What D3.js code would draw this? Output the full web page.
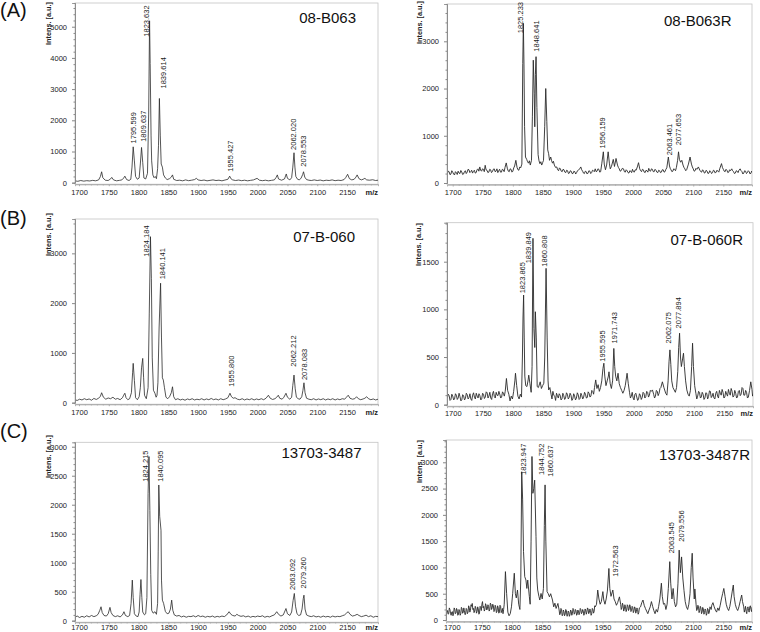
<!DOCTYPE html>
<html><head><meta charset="utf-8">
<script src="https://cdn.jsdelivr.net/npm/d3@7"></script>
<style>body{margin:0;background:#fff}svg{display:block}text{font-family:"Liberation Sans",Arial,sans-serif}</style>
</head><body><svg id="c" width="760" height="632"></svg>
<script>
// ---------- DATA ----------
const xTicks = [1700,1750,1800,1850,1900,1950,2000,2050,2100,2150];
const panelLetters = ["(A)","(B)","(C)"];
const sampleNames = ["08-B063","08-B063R","07-B-060","07-B-060R","13703-3487","13703-3487R"];

const yTicks_08B063 = [0,1000,2000,3000,4000,5000];
const yTicks_08B063R = [0,1000,2000,3000];
const yTicks_07B060 = [0,1000,2000,3000];
const yTicks_07B060R = [0,500,1000,1500];
const yTicks_13703 = [0,500,1000,1500,2000,2500,3000];
const yTicks_13703R = [0,500,1000,1500,2000,2500,3000];

// spectra: [m/z, intensity]
const spec_08B063 = [[1693,60],[1698,45],[1703,70],[1708,50],[1713,65],[1718,55],[1723,75],[1728,60],[1733,90],[1736,200],[1738,350],[1740,160],[1744,80],[1749,70],[1753,120],[1755,170],[1758,90],[1763,60],[1768,75],[1772,90],[1775,150],[1777,210],[1780,100],[1784,70],[1787,110],[1789,500],[1791,1150],[1793,700],[1795,200],[1798,110],[1801,150],[1803,600],[1805,1130],[1807,650],[1809,150],[1812,120],[1815,300],[1817,2200],[1818.5,5190],[1819.5,3820],[1821,1500],[1822,700],[1824,250],[1826,160],[1828,200],[1830,130],[1832,450],[1833.5,1200],[1835,2700],[1836.5,1500],[1838,600],[1840,500],[1842,250],[1845,150],[1848,100],[1852,130],[1855,180],[1857,250],[1859,110],[1864,70],[1869,80],[1874,60],[1879,90],[1884,65],[1889,80],[1894,100],[1897,140],[1900,90],[1905,70],[1910,85],[1915,60],[1920,75],[1925,90],[1930,70],[1935,80],[1940,60],[1945,85],[1950,110],[1953,210],[1955,130],[1958,90],[1963,70],[1968,85],[1973,65],[1978,80],[1983,60],[1988,75],[1993,90],[1999,140],[2003,80],[2008,65],[2013,80],[2018,60],[2023,75],[2028,90],[2031,170],[2033,250],[2035,120],[2040,80],[2045,120],[2048,280],[2050,140],[2054,90],[2057,160],[2059,500],[2061,960],[2062.5,500],[2064,200],[2067,110],[2070,90],[2073,150],[2075.5,260],[2077,350],[2079,180],[2082,100],[2086,80],[2090,70],[2095,90],[2100,70],[2105,85],[2110,60],[2115,80],[2120,70],[2125,90],[2130,65],[2135,80],[2140,70],[2145,100],[2148,170],[2151,270],[2154,130],[2158,90],[2162,110],[2165,180],[2167,250],[2170,130],[2174,90],[2177,110],[2180,140],[2183,90],[2188,80],[2193,95],[2198,70],[2202,80]];

const spec_08B063R = [[1691,200],[1692.5,250],[1694,240],[1695.5,175],[1697,190],[1698.5,260],[1700,230],[1701.5,190],[1703,170],[1704.5,240],[1706,220],[1707.5,180],[1709,250],[1710.5,210],[1712,200],[1713.5,265],[1715,235],[1716.5,180],[1718,190],[1719.5,240],[1721,260],[1722.5,200],[1724,230],[1725.5,290],[1727,280],[1728.5,220],[1730,240],[1731.5,270],[1733,210],[1734.5,250],[1736,270],[1737.5,210],[1739,220],[1740.5,280],[1742,300],[1743.5,250],[1745,340],[1746.5,270],[1748,250],[1749.5,300],[1751,290],[1752.5,240],[1754,375],[1755.5,280],[1757,270],[1758.5,220],[1760,230],[1761.5,290],[1763,280],[1764.5,220],[1766,240],[1767.5,290],[1769,300],[1770.5,240],[1772,250],[1773.5,300],[1775,220],[1776.5,260],[1778,290],[1779.5,230],[1781,230],[1782.5,290],[1784,280],[1785.5,240],[1787,330],[1789,425],[1791,300],[1792.5,250],[1794,240],[1795.5,300],[1797,290],[1798.5,230],[1800,250],[1801.5,320],[1803,360],[1805,480],[1807,330],[1808.5,280],[1810,270],[1811.5,340],[1813,320],[1815,400],[1816.5,2530],[1817.5,3380],[1818.5,2500],[1819.5,1200],[1821,550],[1823,500],[1824.5,450],[1826,420],[1827.5,470],[1829,380],[1831,480],[1832.5,1400],[1834,2600],[1835.5,1900],[1836.5,1190],[1837.5,2300],[1838.6,2675],[1840,1600],[1842,600],[1843.5,470],[1845,410],[1846.5,450],[1848,380],[1849.5,430],[1851,480],[1853,1200],[1854.7,2000],[1856.5,1300],[1858,700],[1859.5,620],[1861,480],[1863,550],[1864.5,470],[1866,420],[1867.5,460],[1869,380],[1871,330],[1873,340],[1874.5,280],[1876,260],[1877.5,320],[1879,300],[1880.5,250],[1882,240],[1883.5,290],[1885,280],[1886.5,230],[1888,220],[1889.5,270],[1891,260],[1892.5,200],[1894,210],[1895.5,260],[1897,250],[1898.5,200],[1900,200],[1901.5,250],[1903,240],[1904.5,190],[1906,220],[1907.5,260],[1909,270],[1911,300],[1913,340],[1914.5,280],[1916,250],[1917.5,210],[1919,200],[1920.5,250],[1922,240],[1923.5,190],[1925,210],[1926.5,260],[1928,250],[1929.5,200],[1931,220],[1932.5,270],[1934,260],[1935.5,240],[1937,300],[1938.5,240],[1940,250],[1941.5,300],[1943,290],[1944.5,230],[1946,240],[1948,420],[1950.5,660],[1952,400],[1954,280],[1956,380],[1958.5,660],[1960.5,420],[1962,300],[1964,350],[1967,500],[1969,350],[1971.6,520],[1974,380],[1975.5,330],[1977,300],[1978.5,250],[1980,260],[1982,310],[1984,300],[1985.5,240],[1987,230],[1988.5,280],[1990,260],[1991.5,220],[1993,210],[1994.5,260],[1996,250],[1997.5,220],[1999,290],[2000.5,240],[2002,230],[2003.5,280],[2005,270],[2007,340],[2009,430],[2011,300],[2012.5,260],[2014,240],[2015.5,290],[2017,280],[2018.5,230],[2020,220],[2021.5,270],[2023,260],[2024.5,230],[2026,310],[2027.5,260],[2029,250],[2030.5,300],[2032,290],[2033.5,240],[2035,240],[2036.5,290],[2038,270],[2039.5,230],[2041,220],[2042.5,270],[2044,260],[2045.5,220],[2047,230],[2048.5,280],[2050,280],[2051.5,230],[2053,240],[2054.5,290],[2056,320],[2058.6,550],[2060.5,360],[2062,300],[2063,280],[2064.5,240],[2066,250],[2067.5,300],[2069,290],[2070.5,260],[2072,330],[2074,480],[2075.5,660],[2077,500],[2079,440],[2081,480],[2083,380],[2084.5,330],[2086,300],[2087.5,260],[2089,280],[2092,400],[2094.7,550],[2097,400],[2098.5,340],[2100,300],[2101.5,250],[2103,260],[2104.5,310],[2106,290],[2108.5,340],[2111,270],[2112.5,240],[2114,230],[2115.5,280],[2117,260],[2118.5,210],[2120,220],[2121.5,270],[2123,250],[2124.5,200],[2126,210],[2127.5,260],[2129,240],[2130.5,200],[2132,220],[2133.5,270],[2135,260],[2136.5,210],[2138,230],[2139.5,270],[2141,250],[2142.5,230],[2144,300],[2147,410],[2148.5,330],[2150,290],[2151.5,250],[2153,240],[2154.5,290],[2156,270],[2157.5,220],[2159,230],[2160.5,280],[2162,260],[2164,300],[2165.5,260],[2167,240],[2168.5,200],[2170,210],[2171.5,260],[2173,250],[2174.5,220],[2176,270],[2178,300],[2179.5,260],[2181,240],[2182.5,190],[2184,210],[2185.5,260],[2187,250],[2188.5,200],[2190,220],[2191.5,260],[2193,240],[2194.5,190],[2196,210],[2197,250],[2198,230]];

const spec_07B060 = [[1693,60],[1697,45],[1701,70],[1705,55],[1709,80],[1713,60],[1717,75],[1721,50],[1725,85],[1729,65],[1733,90],[1736,130],[1738,200],[1741,110],[1745,70],[1749,95],[1753,80],[1757,110],[1761,70],[1765,85],[1769,60],[1773,100],[1775,150],[1777,190],[1779,100],[1782,60],[1785,80],[1788,200],[1790,600],[1791,790],[1793,450],[1795,100],[1798,60],[1801,120],[1803,300],[1805,700],[1807,890],[1808.5,500],[1810,150],[1813,80],[1816,300],[1818,1800],[1820,3335],[1821.5,2500],[1823,900],[1825,250],[1827.5,190],[1829.5,110],[1831,150],[1832.5,400],[1834.5,1500],[1837,2400],[1838.5,1300],[1840,500],[1841.6,455],[1843.5,300],[1846,110],[1849,80],[1852,120],[1855,200],[1857,320],[1859,120],[1862,60],[1866,80],[1870,55],[1874,70],[1878,50],[1882,75],[1886,60],[1890,80],[1894,55],[1898,70],[1902,60],[1906,80],[1910,55],[1914,75],[1918,60],[1922,85],[1926,60],[1930,75],[1934,55],[1938,80],[1942,60],[1946,75],[1950,100],[1953.5,190],[1956,120],[1959,90],[1962,100],[1966,70],[1970,60],[1974,80],[1978,55],[1982,75],[1986,60],[1990,80],[1994,55],[1998,75],[2002,60],[2006,80],[2010,60],[2014,90],[2018,150],[2021,90],[2025,65],[2029,80],[2032,110],[2034.6,150],[2037,90],[2041,70],[2044,110],[2047.5,190],[2050,110],[2054,70],[2057,110],[2059,350],[2061,555],[2063,280],[2065,110],[2068,80],[2071,70],[2074,120],[2076,250],[2077.7,400],[2079.5,200],[2082,90],[2086,70],[2090,60],[2094,80],[2098,55],[2102,75],[2106,60],[2110,80],[2114,55],[2118,75],[2122,60],[2126,80],[2130,55],[2134,75],[2138,60],[2142,80],[2146,70],[2149,110],[2152,150],[2155,90],[2159,70],[2163,80],[2166,120],[2169,80],[2173,60],[2177,75],[2180,90],[2183,120],[2186,80],[2190,60],[2194,75],[2198,55],[2202,70]];

const spec_07B060R = [[1691,70],[1692.5,110],[1694,95],[1695.5,45],[1697,55],[1698.5,110],[1700,90],[1701.5,50],[1703,60],[1704.5,115],[1706,100],[1707.5,55],[1709,70],[1710.5,120],[1712,85],[1713.5,40],[1715,50],[1716.5,105],[1718,95],[1719.5,50],[1721,65],[1722.5,120],[1724,105],[1725.5,60],[1727,75],[1728.5,115],[1730,60],[1731.5,45],[1733,100],[1734.5,125],[1736,80],[1737.5,60],[1739,120],[1740.5,90],[1742,70],[1743.5,115],[1745,95],[1746.5,50],[1748,60],[1749.5,120],[1751,110],[1752.5,65],[1754,80],[1755.5,135],[1757,125],[1758.5,70],[1760,90],[1761.5,130],[1763,70],[1764.5,55],[1766,115],[1767.5,140],[1769,85],[1770.5,70],[1772,130],[1773.5,100],[1775,95],[1776.5,140],[1778,110],[1779.5,70],[1781,80],[1782.5,135],[1784,120],[1785.5,90],[1787,140],[1789,275],[1791,150],[1793,110],[1795,40],[1797,90],[1799,60],[1801,140],[1803,250],[1804,330],[1806,200],[1808,90],[1810,60],[1812,110],[1814,80],[1815.5,500],[1816.5,920],[1817.5,1150],[1818.5,700],[1819.5,300],[1821,200],[1823,190],[1825,260],[1826,310],[1828,220],[1830,130],[1831.5,400],[1833,1745],[1834.5,800],[1836,600],[1837,975],[1838.5,700],[1840,190],[1842,180],[1845,240],[1847,170],[1849,200],[1851,225],[1852.5,500],[1854.7,1430],[1856.5,700],[1858,250],[1859,155],[1861,180],[1863,110],[1864.5,60],[1866,140],[1867.5,100],[1869,90],[1870.5,45],[1872,120],[1873.5,95],[1875,70],[1876.5,115],[1878,100],[1879.5,50],[1881,60],[1882.5,120],[1884,95],[1885.5,55],[1887,70],[1888.5,125],[1890,110],[1891.5,60],[1893,75],[1894.5,120],[1896,100],[1897.5,45],[1899,60],[1900.5,115],[1902,90],[1903.5,50],[1905,70],[1906.5,125],[1908,105],[1909.5,55],[1911,65],[1912.5,120],[1914,95],[1915.5,60],[1917,80],[1918.5,130],[1920,110],[1921.5,70],[1923,75],[1924.5,135],[1926,120],[1927.5,80],[1929,90],[1930.5,150],[1932,140],[1933.5,110],[1935,180],[1937,260],[1939,170],[1941,210],[1943,140],[1945,180],[1947,250],[1949,380],[1950.5,435],[1952,300],[1954,200],[1956,250],[1958,300],[1959,345],[1961,220],[1963,170],[1965,250],[1967,590],[1968.5,400],[1970,300],[1972,250],[1974,330],[1976,220],[1978,180],[1980,150],[1982,120],[1984,150],[1986,200],[1989,330],[1991,220],[1993,130],[1994.5,70],[1996,90],[1997.5,130],[1999,70],[2000.5,50],[2002,110],[2003.5,120],[2005,80],[2006.5,45],[2008,60],[2009.5,115],[2011,100],[2012.5,55],[2014,75],[2015.5,130],[2017,120],[2018.5,70],[2020,85],[2021.5,140],[2023,130],[2024.5,80],[2026,100],[2027.5,150],[2029,140],[2031,155],[2033,110],[2034.5,70],[2036,90],[2037.5,150],[2039,140],[2040.5,95],[2042,120],[2043.5,170],[2045,180],[2047.5,240],[2050,180],[2053,120],[2055,100],[2057,250],[2058.5,450],[2060,575],[2061.5,420],[2063,250],[2065,180],[2067,155],[2069,130],[2071,180],[2073,350],[2074.5,600],[2076,750],[2077.5,500],[2079,400],[2081,480],[2082.5,540],[2084,400],[2086,250],[2088,155],[2090,110],[2092,90],[2094,150],[2096,400],[2097.5,645],[2099,400],[2101,200],[2103,120],[2104.5,60],[2106,90],[2107.5,140],[2109,130],[2110.5,70],[2112,80],[2113.5,130],[2115,110],[2116.5,55],[2118,70],[2119.5,125],[2121,120],[2122.5,60],[2124,85],[2125.5,145],[2127,140],[2128.5,75],[2130,90],[2131.5,120],[2133,70],[2134.5,60],[2136,120],[2137.5,140],[2139,90],[2140.5,70],[2142,150],[2143.5,120],[2145,100],[2146.5,160],[2148,130],[2149.5,70],[2151,80],[2152.5,140],[2154,110],[2155.5,90],[2157,160],[2158.5,120],[2160,100],[2161.5,170],[2163,140],[2164.5,80],[2166,90],[2167.5,150],[2169,120],[2170.5,70],[2172,80],[2173.5,140],[2175,150],[2176.5,95],[2178,110],[2179.5,180],[2181,170],[2182.5,100],[2184,100],[2185.5,150],[2187,130],[2188.5,70],[2190,80],[2192,150],[2194,240],[2196,160],[2197,90],[2198,110]];

const spec_13703 = [[1693,60],[1697,80],[1701,55],[1705,75],[1709,60],[1713,85],[1717,65],[1721,90],[1725,70],[1729,85],[1732,110],[1735,180],[1737,240],[1739,140],[1742,90],[1746,80],[1749,120],[1752,230],[1754,140],[1757,90],[1761,70],[1765,85],[1769,65],[1773,100],[1775.5,155],[1778,90],[1782,70],[1785,90],[1787.5,300],[1789.5,700],[1791,400],[1793,120],[1796,80],[1799,70],[1801,150],[1802.5,450],[1804,710],[1805.5,400],[1807,150],[1810,100],[1812,120],[1814,400],[1816,2195],[1817.5,2830],[1819,1900],[1820.5,800],[1822,180],[1824.5,130],[1827.6,155],[1830,110],[1832,300],[1833,1200],[1834,2340],[1835.5,1800],[1837.7,1560],[1838.5,700],[1840,355],[1842,300],[1845,160],[1848,120],[1851,130],[1853.5,200],[1855.6,355],[1857.5,180],[1860,100],[1864,80],[1868,90],[1872,65],[1876,80],[1880,60],[1884,75],[1888,70],[1892,85],[1896,65],[1900,90],[1904,70],[1908,80],[1912,60],[1916,75],[1920,65],[1924,80],[1928,60],[1932,75],[1936,65],[1940,80],[1944,70],[1948,100],[1952,155],[1955,110],[1958,90],[1962,80],[1965,110],[1968,90],[1972,75],[1976,85],[1980,65],[1984,80],[1988,60],[1992,75],[1996,65],[2000,80],[2004,70],[2008,85],[2012,60],[2016,75],[2020,65],[2024,85],[2028,100],[2032,155],[2035,110],[2039,80],[2043,100],[2047.5,210],[2050,120],[2054,90],[2057,150],[2059.5,350],[2061.5,470],[2063.5,250],[2066,120],[2069,90],[2072,100],[2074.5,200],[2076.5,380],[2077.7,440],[2079.5,200],[2082,100],[2086,80],[2090,70],[2094,85],[2098,65],[2102,75],[2106,60],[2110,80],[2114,65],[2118,75],[2122,60],[2126,80],[2130,65],[2134,75],[2138,70],[2142,85],[2146,100],[2149,130],[2152,155],[2155,110],[2159,80],[2163,90],[2167,110],[2170,90],[2174,70],[2178,80],[2182,95],[2186,70],[2190,85],[2194,60],[2198,75],[2202,70]];

const spec_13703R = [[1691,100],[1692,150],[1693,180],[1694,110],[1695,120],[1696,230],[1697,200],[1698,130],[1699,90],[1700,150],[1701,160],[1702,80],[1703,110],[1704,230],[1705,210],[1706,120],[1707,130],[1708,220],[1709,190],[1710,90],[1711,100],[1712,200],[1713,170],[1714,90],[1715,120],[1716,240],[1717,220],[1718,130],[1719,140],[1720,230],[1721,180],[1722,100],[1723,110],[1724,220],[1725,200],[1726,120],[1727,150],[1728,270],[1729,240],[1730,150],[1731,180],[1732,290],[1733,260],[1734,315],[1735,200],[1736,220],[1737,140],[1738,170],[1739,260],[1740,230],[1741,130],[1742,160],[1743,250],[1744,210],[1745,110],[1746,130],[1747,260],[1748,240],[1749,180],[1750,300],[1751,350],[1752,230],[1753,260],[1754,170],[1755,200],[1756,310],[1757,280],[1758,190],[1759,210],[1760,290],[1761,260],[1762,170],[1763,190],[1764,320],[1765,300],[1766,200],[1767,230],[1768,300],[1769,270],[1770,160],[1771,180],[1772,280],[1773,250],[1774,140],[1775,160],[1776,270],[1777,240],[1778,130],[1779,150],[1780,280],[1781,260],[1782,140],[1783,170],[1784,220],[1785,120],[1786,200],[1787,300],[1789,920],[1791,500],[1793,150],[1795,80],[1797,120],[1799,250],[1801,500],[1803.7,890],[1805.5,500],[1807,420],[1809,570],[1811,300],[1813,200],[1814.5,800],[1816,2820],[1817.5,2300],[1819,1300],[1821,825],[1823,760],[1824.5,600],[1826,760],[1828.6,450],[1830,300],[1831.5,1500],[1833,3110],[1834.5,2410],[1836,2500],[1837.5,2660],[1839.7,1585],[1841,800],[1842.5,570],[1844.5,450],[1846,380],[1848,505],[1850,400],[1852,600],[1853.5,1800],[1854.7,2570],[1856,1500],[1858,540],[1860,500],[1862,440],[1864,500],[1867,380],[1869,250],[1871,320],[1873,220],[1876,315],[1878,190],[1879,100],[1880,120],[1881,220],[1882,200],[1883,80],[1884,90],[1885,190],[1886,160],[1887,80],[1888,110],[1889,200],[1890,180],[1891,70],[1892,80],[1893,170],[1894,150],[1895,70],[1896,100],[1897,190],[1898,170],[1899,90],[1900,120],[1901,220],[1902,200],[1903,110],[1904,130],[1905,200],[1906,180],[1907,90],[1908,110],[1909,190],[1910,170],[1911,100],[1912,130],[1913,220],[1914,200],[1915,120],[1916,140],[1917,200],[1918,170],[1919,90],[1920,120],[1921,210],[1922,190],[1923,110],[1924,150],[1925,230],[1926,210],[1927,120],[1928,140],[1929,210],[1930,180],[1931,90],[1932,120],[1933,220],[1934,200],[1935,130],[1936,160],[1937,270],[1938,250],[1940,300],[1942,570],[1944,400],[1946,300],[1948,350],[1950.5,540],[1952,380],[1954,300],[1956,400],[1958,550],[1960.5,980],[1962,600],[1964,450],[1967,570],[1969,400],[1971,350],[1973,280],[1975,330],[1978,440],[1980,300],[1981,200],[1982,230],[1983,320],[1984,280],[1985,170],[1986,200],[1987,290],[1988,250],[1989,160],[1990,190],[1991,290],[1992,270],[1993,180],[1994,210],[1995,290],[1996,260],[1997,160],[1998,180],[1999,260],[2000,240],[2001,140],[2002,170],[2003,250],[2004,230],[2005,130],[2006,160],[2007,230],[2008,200],[2009,110],[2010,140],[2011,230],[2013,250],[2015,330],[2017,380],[2019,280],[2021,220],[2023,170],[2025,120],[2027,190],[2029,250],[2031,350],[2033,260],[2035,180],[2037,120],[2039,200],[2041,150],[2043,260],[2045,400],[2047.5,700],[2049,450],[2051,300],[2053,315],[2055,200],[2057,300],[2059,600],[2061.4,1110],[2063,700],[2065,400],[2067,600],[2069,350],[2071,250],[2073,300],[2075,700],[2077,1330],[2079,900],[2081,1200],[2083,800],[2085,560],[2087,350],[2089,250],[2091,200],[2093,300],[2095,500],[2097,1000],[2098.6,1270],[2100,800],[2102,400],[2103,590],[2105,300],[2106,180],[2107,200],[2108,280],[2109,250],[2110,140],[2111,180],[2112,260],[2113,230],[2114,120],[2115,150],[2116,240],[2117,210],[2118,110],[2119,140],[2120,210],[2121,180],[2122,90],[2123,120],[2124,220],[2125,200],[2126,120],[2127,150],[2128,250],[2129,230],[2130,200],[2131,280],[2133,330],[2135,250],[2137,190],[2139,150],[2141,230],[2143,180],[2145,280],[2147,400],[2149,500],[2151,600],[2153,450],[2155,300],[2157,220],[2159,180],[2161,260],[2163,400],[2165,550],[2166.7,665],[2168,450],[2170,300],[2172,220],[2174,180],[2176,250],[2178,350],[2180.6,475],[2182,350],[2184,250],[2185,150],[2186,200],[2187,260],[2188,160],[2189,120],[2190,220],[2191,250],[2192,180],[2193,150],[2194,250],[2195,270],[2196,200],[2197,160],[2198,250]];

// peak annotations: [label, m/z position, intensity at label base]
const labels_08B063 = [["1795.599",1791,1260],["1809.637",1808,1310],["1823.632",1813.6,4680],["1839.614",1841.6,3020],["1955.427",1953.5,350],["2062.020",2060,1050],["2078.553",2076.6,510]];
const labels_08B063R = [["1825.233",1812,3170],["1848.641",1838.6,2780],["1956.159",1949.5,730],["2063.461",2060,590],["2077.653",2075.3,800]];
const labels_07B060 = [["1824.184",1813.6,2933],["1840.141",1840.5,2478],["1955.800",1956.3,320],["2062.212",2059.8,723],["2078.083",2077.7,455]];
const labels_07B060R = [["1823.865",1814.7,1168],["1839.849",1825.8,1483],["1860.808",1851.9,1448],["1955.595",1947.8,451],["1971.743",1967.2,643],["2062.075",2057,643],["2077.894",2073.6,800]];
const labels_13703 = [["1824.215",1812,2396],["1840.095",1836,2396],["2063.092",2058,529],["2079.260",2076.6,557]];
const labels_13703R = [["1823.947",1819,2759],["1844.752",1848,2759],["1860.637",1863,2727],["1972.563",1971.6,824],["2063.545",2064.7,1268],["2079.556",2080.8,1490]];

// ---------- LAYOUT ----------
const svg = d3.select("#c");
const panels = [
  {name:sampleNames[0], data:spec_08B063, labels:labels_08B063, yt:yTicks_08B063, ymax:5760, xd:[1693.3,2202], xr:[75,378], yTop:3, y0:182.7, tx:356, ty:23.3, lx:48, ly:2, sw:0.8, lab:12},
  {name:sampleNames[1], data:spec_08B063R, labels:labels_08B063R, yt:yTicks_08B063R, ymax:3790, xd:[1690.5,2197.7], xr:[447,752], yTop:4, y0:183, tx:731.5, ty:26, lx:419.5, ly:1, sw:0.9, lab:12},
  {name:sampleNames[2], data:spec_07B060, labels:labels_07B060, yt:yTicks_07B060, ymax:3690, xd:[1693.3,2202], xr:[75,378], yTop:219, y0:402.7, tx:355, ty:241.7, lx:48, ly:213, sw:0.8, lab:12},
  {name:sampleNames[3], data:spec_07B060R, labels:labels_07B060R, yt:yTicks_07B060R, ymax:1909, xd:[1690.5,2197.7], xr:[447,753], yTop:222.7, y0:404.7, tx:743, ty:245, lx:418, ly:223, sw:0.9, lab:11},
  {name:sampleNames[4], data:spec_13703, labels:labels_13703, yt:yTicks_13703, ymax:3076, xd:[1693.3,2202], xr:[75,378], yTop:442.3, y0:620.7, tx:361.5, ty:458.3, lx:48, ly:435, sw:0.8, lab:9.5},
  {name:sampleNames[5], data:spec_13703R, labels:labels_13703R, yt:yTicks_13703R, ymax:3424, xd:[1690.5,2197.7], xr:[446,752], yTop:440, y0:620, tx:750, ty:460, lx:419.5, ly:440, sw:0.9, lab:9.5}
];

const letterPos = [[0,17],[0,225],[0,438]];
panelLetters.forEach((t,i)=>{
  svg.append("text").attr("x",letterPos[i][0]).attr("y",letterPos[i][1])
    .attr("font-size",20).attr("fill","#111").text(t);
});

panels.forEach((p,i)=>{
  const g = svg.append("g");
  const x = d3.scaleLinear().domain(p.xd).range(p.xr);
  const y = d3.scaleLinear().domain([0,p.ymax]).range([p.y0,p.yTop]);
  const yBot = p.y0 + 1.5;
  g.append("rect").attr("x",p.xr[0]).attr("y",p.yTop).attr("width",p.xr[1]-p.xr[0]).attr("height",yBot-p.yTop)
    .attr("fill","none").attr("stroke","#c4c4c4").attr("stroke-width",0.8);
  const cid = "clip"+i;
  svg.append("clipPath").attr("id",cid).append("rect")
    .attr("x",p.xr[0]).attr("y",p.yTop).attr("width",p.xr[1]-p.xr[0]).attr("height",yBot-p.yTop);
  g.append("path").datum(p.data).attr("clip-path",`url(#${cid})`)
    .attr("fill","none").attr("stroke","#2a2a2a").attr("stroke-width",p.sw).attr("stroke-linejoin","round")
    .attr("d", d3.line().x(d=>x(d[0])).y(d=>y(d[1])));
  // y axis
  const step = p.yt[1]-p.yt[0];
  const minor = d3.range(0, p.ymax, step/5).filter(v=>!p.yt.includes(v));
  const ya = g.append("g").attr("transform",`translate(${p.xr[0]},0)`)
    .call(d3.axisLeft(y).tickValues(p.yt).tickSize(3).tickPadding(5).tickFormat(d3.format("d")));
  ya.append("g").call(d3.axisLeft(y).tickValues(minor).tickSize(1.5).tickFormat(""));
  ya.selectAll("path.domain").attr("stroke","#888").attr("stroke-width",0.8);
  ya.selectAll("line").attr("stroke","#888");
  ya.selectAll("text").attr("font-size",7.5).attr("fill","#222").attr("font-family","Liberation Sans, Arial, sans-serif");
  // x axis
  const xminor = d3.range(1700,2200,10).filter(v=>!xTicks.includes(v));
  const xa = g.append("g").attr("transform",`translate(0,${yBot})`)
    .call(d3.axisBottom(x).tickValues(xTicks).tickSize(2).tickPadding(1.5).tickFormat(d3.format("d")));
  xa.append("g").call(d3.axisBottom(x).tickValues(xminor).tickSize(1.2).tickFormat(""));
  xa.selectAll("path.domain").attr("stroke","#aaa").attr("stroke-width",0.8);
  xa.selectAll("line").attr("stroke","#aaa");
  xa.selectAll(".tick text").attr("dy",null).attr("y",p.lab-1.5)
    .attr("font-size",7.5).attr("fill","#222").attr("font-family","Liberation Sans, Arial, sans-serif");
  g.append("text").attr("x",p.xr[1]).attr("y",p.y0+p.lab).attr("text-anchor","end")
    .attr("font-size",7.5).attr("font-weight","bold").attr("fill","#222").text("m/z");
  g.append("text").attr("transform",`translate(${p.lx},${p.ly}) rotate(-90)`).attr("dy","0.35em")
    .attr("text-anchor","end").attr("font-size",7.3).attr("font-weight","bold").attr("fill","#222").text("Intens. [a.u.]");
  g.append("text").attr("x",p.tx).attr("y",p.ty).attr("text-anchor","end")
    .attr("font-size",15).attr("fill","#111").text(p.name);
  g.selectAll("text.pk").data(p.labels).join("text").attr("class","pk")
    .attr("transform",d=>`translate(${x(d[1])},${y(d[2])}) rotate(-90)`).attr("dy","0.35em")
    .attr("font-size",7.5).attr("fill","#222").text(d=>d[0]);
});
</script></body></html>
